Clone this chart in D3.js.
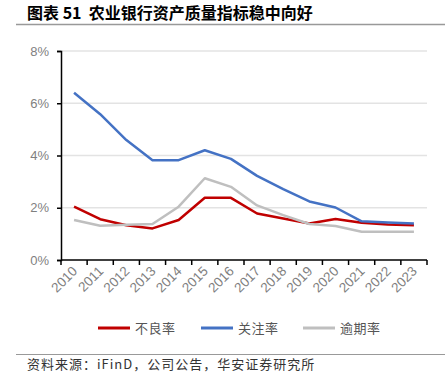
<!DOCTYPE html>
<html>
<head>
<meta charset="utf-8">
<script src="https://cdn.jsdelivr.net/npm/d3@7"></script>
<style>
  body { margin: 0; background: #fff; }
  svg { display: block; font-family: "Liberation Sans", Arial, sans-serif; }
</style>
</head>
<body>
<svg id="chart" width="445" height="373"></svg>
<script>
const YEARS = ["2010", "2011", "2012", "2013", "2014", "2015", "2016",
  "2017", "2018", "2019", "2020", "2021", "2022", "2023"];
const NPL = [2.04, 1.56, 1.33, 1.21, 1.53, 2.38, 2.38, 1.78, 1.59, 1.40, 1.57, 1.43, 1.36, 1.33];
const SPECIAL = [6.40, 5.58, 4.59, 3.82, 3.82, 4.20, 3.87, 3.22, 2.71, 2.24, 2.01, 1.48, 1.44, 1.40];
const OVERDUE = [1.53, 1.31, 1.35, 1.38, 2.04, 3.13, 2.80, 2.09, 1.72, 1.38, 1.30, 1.08, 1.08, 1.08];
const Y_TICKS = [0, 2, 4, 6, 8];

const SERIES = [
  { name: "不良率", values: NPL, color: "#c00000" },
  { name: "关注率", values: SPECIAL, color: "#4472c4" },
  { name: "逾期率", values: OVERDUE, color: "#bfbfbf" },
];

const svg = d3.select("#chart");
const CJK = "'Noto Sans CJK SC', sans-serif";

// title + rules
svg.append("text")
  .attr("x", 27).attr("y", 19)
  .style("font-family", CJK)
  .style("font-weight", "700")
  .style("font-size", "16px")
  .style("white-space", "pre")
  .attr("fill", "#000")
  .text("图表 51  农业银行资产质量指标稳中向好");

svg.append("line")
  .attr("x1", 16).attr("x2", 445).attr("y1", 24.5).attr("y2", 24.5)
  .attr("stroke", "#999").attr("stroke-width", 1.5);

svg.append("line")
  .attr("x1", 16).attr("x2", 445).attr("y1", 354.5).attr("y2", 354.5)
  .attr("stroke", "#999").attr("stroke-width", 1);

svg.append("text")
  .attr("x", 27).attr("y", 369)
  .style("font-family", CJK)
  .style("font-size", "13px")
  .style("letter-spacing", "1px")
  .attr("fill", "#333")
  .text("资料来源：iFinD，公司公告，华安证券研究所");

// plot area
const x = d3.scaleBand().domain(YEARS).range([61, 427]);
const y = d3.scaleLinear().domain([0, 8]).range([260, 51]);

const g = svg.append("g");

// gridlines
g.selectAll(".grid")
  .data(Y_TICKS.filter((d) => d > 0))
  .join("line")
  .attr("class", "grid")
  .attr("x1", 61).attr("x2", 427)
  .attr("y1", (d) => y(d)).attr("y2", (d) => y(d))
  .attr("stroke", "#e3e3e3").attr("stroke-width", 1.5);

// y axis
const yAxis = g.append("g")
  .attr("transform", "translate(61,0)")
  .call(d3.axisLeft(y).tickValues(Y_TICKS).tickFormat((d) => d + "%").tickSize(4).tickPadding(8));
yAxis.select(".domain").attr("stroke", "#000").attr("stroke-width", 1.5);
yAxis.selectAll(".tick line").attr("stroke", "#000").attr("stroke-width", 1.5);
yAxis.selectAll("text").attr("fill", "#7f7f7f").style("font-size", "13px");

// x axis with ticks at category edges
const xAxis = g.append("g")
  .attr("transform", "translate(0,260)");
xAxis.append("line")
  .attr("x1", 61).attr("x2", 427).attr("y1", 0).attr("y2", 0)
  .attr("stroke", "#000").attr("stroke-width", 1.5);
const edges = YEARS.map((d) => x(d)).concat([x(YEARS[YEARS.length - 1]) + x.bandwidth()]);
xAxis.selectAll(".xt")
  .data(edges)
  .join("line")
  .attr("class", "xt")
  .attr("x1", (d) => d).attr("x2", (d) => d)
  .attr("y1", 0).attr("y2", 5)
  .attr("stroke", "#000").attr("stroke-width", 1.5);
xAxis.selectAll(".xl")
  .data(YEARS)
  .join("text")
  .attr("class", "xl")
  .attr("text-anchor", "end")
  .attr("fill", "#7f7f7f")
  .style("font-size", "13.5px")
  .attr("transform", (d) => `translate(${x(d) + x.bandwidth() / 2 + 4},${12}) rotate(-45)`)
  .text((d) => d);

// lines
const line = d3.line()
  .x((d, i) => x(YEARS[i]) + x.bandwidth() / 2)
  .y((d) => y(d));

g.selectAll(".series")
  .data(SERIES)
  .join("path")
  .attr("class", "series")
  .attr("d", (d) => line(d.values))
  .attr("fill", "none")
  .attr("stroke", (d) => d.color)
  .attr("stroke-width", 2.5)
  .attr("stroke-linejoin", "round");

// legend
const legendX = [98, 201, 303];
const lg = svg.append("g").selectAll("g")
  .data(SERIES)
  .join("g")
  .attr("transform", (d, i) => `translate(${legendX[i]},328)`);
lg.append("line")
  .attr("x1", 0).attr("x2", 32).attr("y1", 0).attr("y2", 0)
  .attr("stroke", (d) => d.color).attr("stroke-width", 3);
lg.append("text")
  .attr("x", 37).attr("y", 4.5)
  .style("font-family", CJK)
  .style("font-size", "13px")
  .style("letter-spacing", "0.5px")
  .attr("fill", "#555")
  .text((d) => d.name);
</script>
</body>
</html>
